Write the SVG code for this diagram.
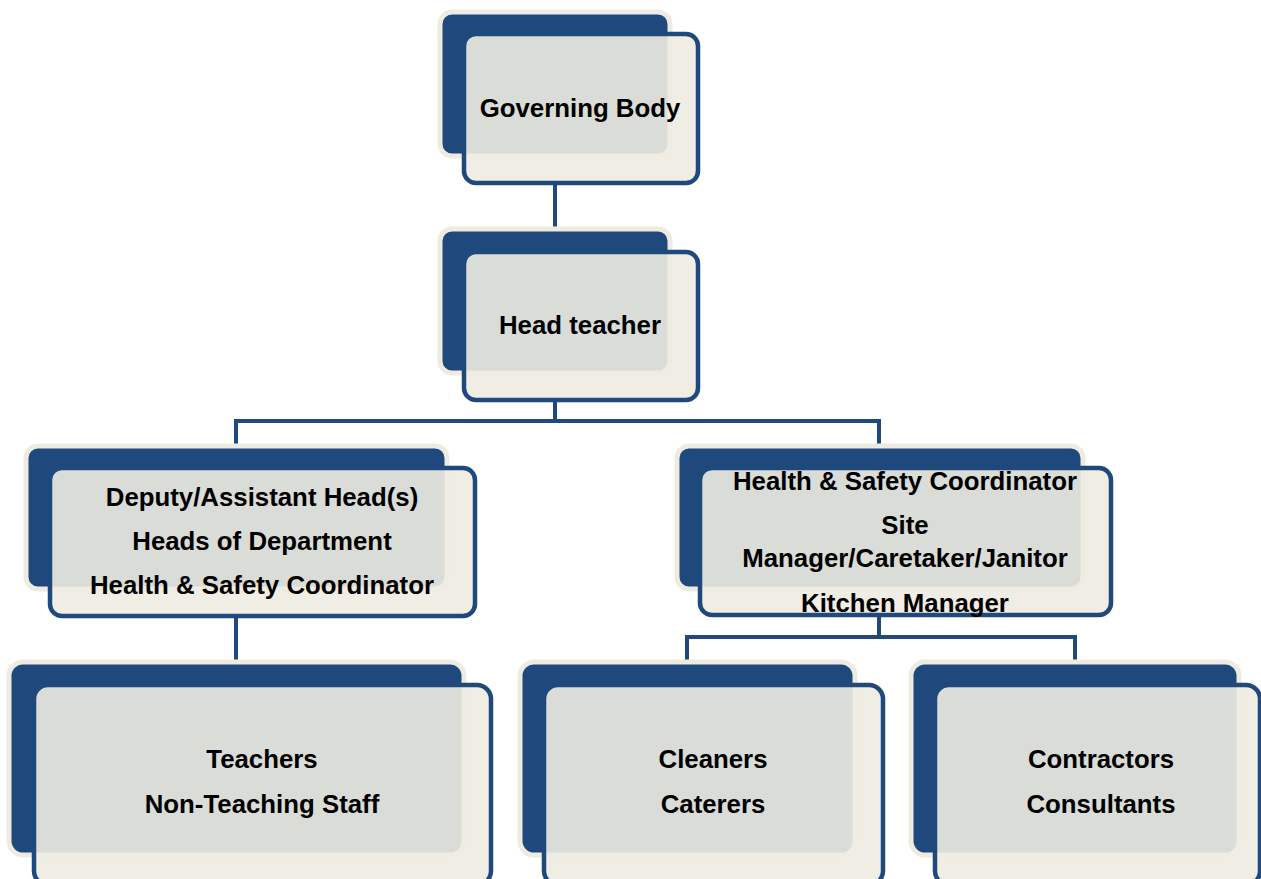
<svg xmlns="http://www.w3.org/2000/svg" width="1261" height="879" viewBox="0 0 1261 879">
<style>
.back{fill:#1F497D;stroke:#EEECE1;stroke-width:5}
.front{fill:#EEECE1;fill-opacity:0.9;stroke:#1F497D;stroke-width:4.5}
.conn{fill:none;stroke:#1F497D;stroke-width:4}
text{font-family:"Liberation Sans",Arial,sans-serif;font-weight:bold;font-size:25.8px;fill:#000;text-anchor:middle}
</style>
<rect width="1261" height="879" fill="#FFFFFF"/>
<g id="connectors">
<path class="conn" d="M555 183 V229"/>
<path class="conn" d="M555 400 V421 M236 446 V421 H879 V446"/>
<path class="conn" d="M236 615 V660"/>
<path class="conn" d="M879 615 V637 M687 660 V637 H1075 V660"/>
</g>
<g id="governing-body">
<rect class="back" x="440" y="12" width="230" height="144" rx="12"/>
<rect class="front" x="464" y="34" width="234" height="149" rx="12"/>
<text x="580" y="117">Governing Body</text>
</g>
<g id="head-teacher">
<rect class="back" x="440" y="229" width="230" height="144" rx="12"/>
<rect class="front" x="464" y="252" width="234" height="148" rx="12"/>
<text x="580" y="334">Head teacher</text>
</g>
<g id="deputy">
<rect class="back" x="26" y="446" width="421" height="143" rx="12"/>
<rect class="front" x="50" y="468" width="425" height="148" rx="12"/>
<text x="262" y="506">Deputy/Assistant Head(s)</text>
<text x="262" y="550">Heads of Department</text>
<text x="262" y="594">Health &amp; Safety Coordinator</text>
</g>
<g id="site">
<rect class="back" x="677" y="446" width="406" height="143" rx="12"/>
<rect class="front" x="700" y="468" width="411" height="147" rx="12"/>
<text x="905" y="490">Health &amp; Safety Coordinator</text>
<text x="905" y="534">Site</text>
<text x="905" y="567">Manager/Caretaker/Janitor</text>
<text x="905" y="612">Kitchen Manager</text>
</g>
<g id="teachers">
<rect class="back" x="9" y="662" width="455" height="193" rx="14"/>
<rect class="front" x="34" y="685" width="457" height="200" rx="14"/>
<text x="262" y="768">Teachers</text>
<text x="262" y="813">Non-Teaching Staff</text>
</g>
<g id="cleaners">
<rect class="back" x="520" y="662" width="335" height="193" rx="14"/>
<rect class="front" x="544" y="685" width="339" height="200" rx="14"/>
<text x="713" y="768">Cleaners</text>
<text x="713" y="813">Caterers</text>
</g>
<g id="contractors">
<rect class="back" x="911" y="662" width="328" height="193" rx="14"/>
<rect class="front" x="935" y="685" width="325" height="200" rx="14"/>
<text x="1101" y="768">Contractors</text>
<text x="1101" y="813">Consultants</text>
</g>
</svg>
